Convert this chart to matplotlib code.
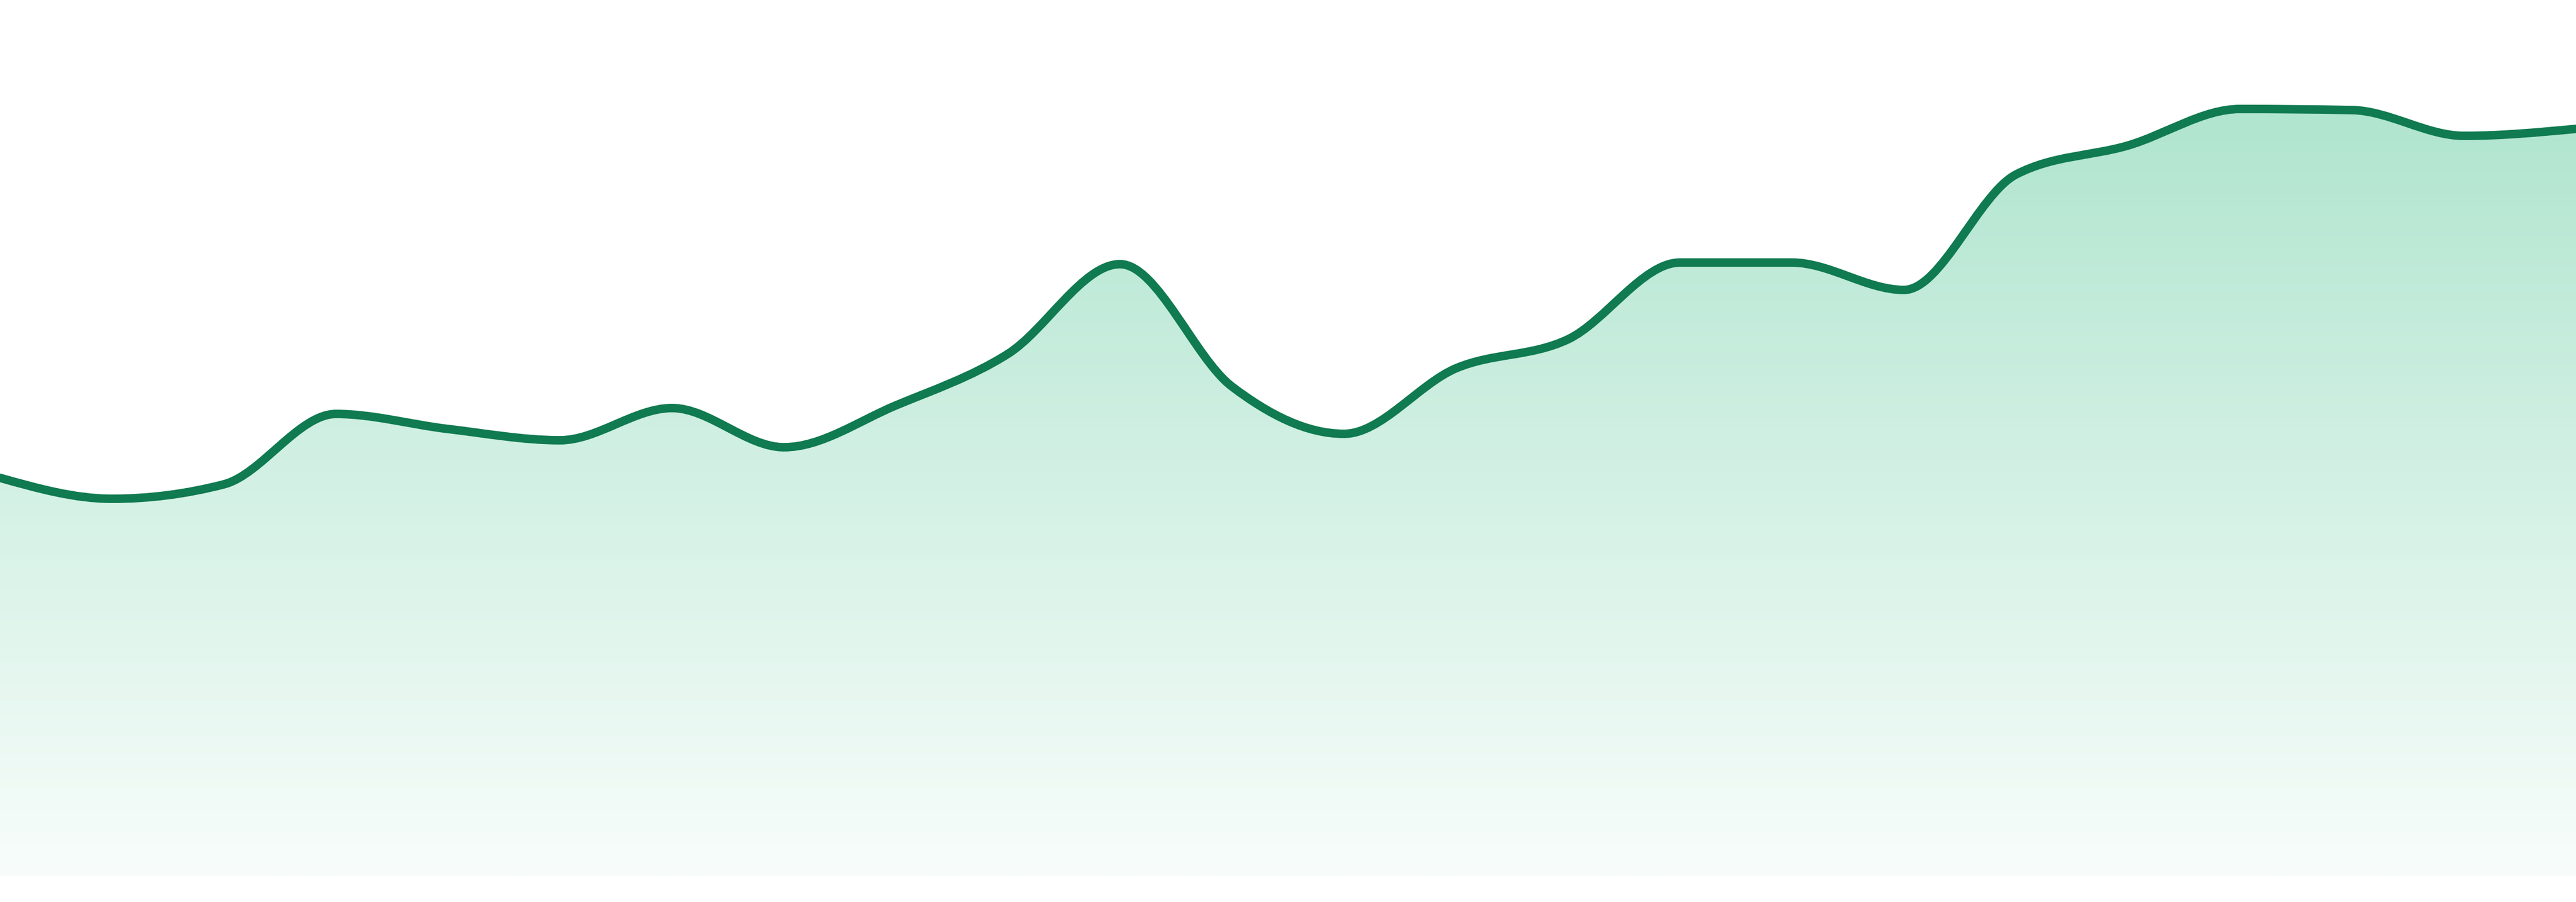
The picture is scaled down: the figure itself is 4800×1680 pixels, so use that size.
import numpy as np
import matplotlib
matplotlib.use("Agg")
import matplotlib.pyplot as plt
from matplotlib.path import Path
from matplotlib.patches import PathPatch

# one value per point
days = np.arange(24)
values = [74.2, 70.3, 73.0, 86.1, 83.3, 81.2, 87.2, 79.9, 87.7, 97.3, 114.0, 91.2,
          82.4, 94.6, 100.0, 114.3, 114.3, 109.2, 130.7, 136.1, 142.9, 142.7, 137.9, 139.2]

line_color = '#107a50'
fill_top = np.array([176, 229, 207]) / 255.0
fill_bottom = np.array([248, 253, 251]) / 255.0


def monotone_path(x, y):
    # monotone-x cubic (same idea as d3 curveMonotoneX)
    x = np.asarray(x, float)
    y = np.asarray(y, float)
    n = len(x)
    h = np.diff(x)
    s = np.diff(y) / h
    t = np.zeros(n)
    for i in range(1, n - 1):
        p = (s[i-1] * h[i] + s[i] * h[i-1]) / (h[i-1] + h[i])
        t[i] = (np.sign(s[i-1]) + np.sign(s[i])) * min(abs(s[i-1]), abs(s[i]), 0.5 * abs(p))
    t[0] = (3 * s[0] - t[1]) / 2
    t[-1] = (3 * s[-1] - t[-2]) / 2
    verts = [(x[0], y[0])]
    codes = [Path.MOVETO]
    for i in range(n - 1):
        dx = h[i] / 3
        verts += [(x[i] + dx, y[i] + dx * t[i]),
                  (x[i+1] - dx, y[i+1] - dx * t[i+1]),
                  (x[i+1], y[i+1])]
        codes += [Path.CURVE4] * 3
    return verts, codes


fig = plt.figure(figsize=(16, 5.6), dpi=300)
ax = fig.add_axes([0, 48 / 1680, 1, 1632 / 1680])
ax.set_xlim(days[0], days[-1])
ax.set_ylim(0, 163.2)
ax.axis('off')

verts, codes = monotone_path(days, values)

# gradient area under the curve
area = Path(verts + [(days[-1], 0), (days[0], 0), (days[0], values[0])],
            codes + [Path.LINETO, Path.LINETO, Path.CLOSEPOLY])
clip = PathPatch(area, facecolor='none', edgecolor='none', transform=ax.transData)
ax.add_patch(clip)
k = np.linspace(0, 1, 256)[:, None]
grad = (fill_top[None, :] * (1 - k) + fill_bottom[None, :] * k)[:, None, :]
img = ax.imshow(grad, extent=[days[0], days[-1], 0, max(values)], aspect='auto',
                origin='upper', interpolation='bilinear', zorder=1)
img.set_clip_path(clip)

line = PathPatch(Path(verts, codes), facecolor='none', edgecolor=line_color,
                 lw=3.8, capstyle='round', joinstyle='round', zorder=3)
ax.add_patch(line)

fig.savefig('out.png', dpi=300, facecolor='white')
